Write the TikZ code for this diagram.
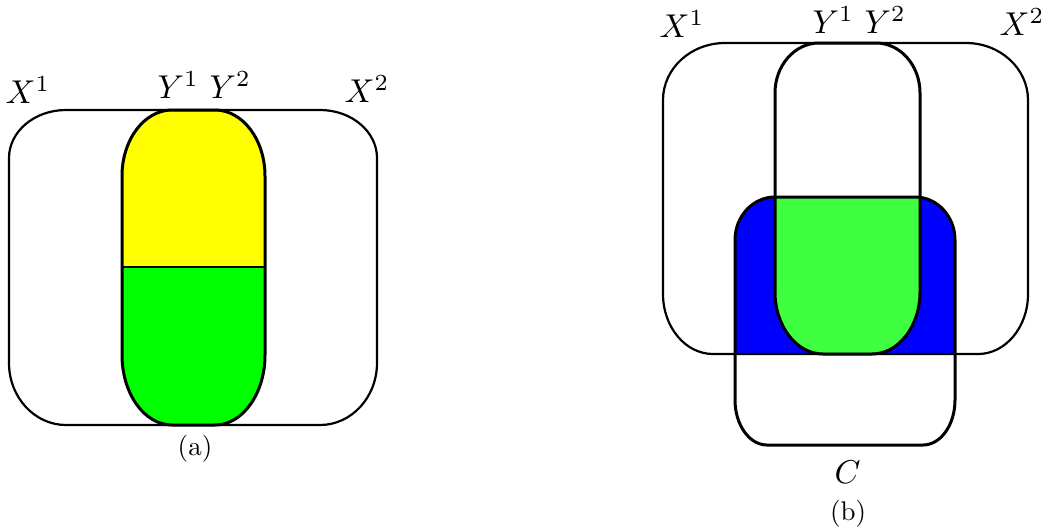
\documentclass[tikz,border=0pt]{standalone}
% rounded rectangle with elliptic corners:
% #1,#2 top-left, #3,#4 bottom-right, #5/#6 top corner radii (x/y), #7/#8 bottom corner radii (x/y)
\newcommand\rrpath[8]{({#1+#5},#2) -- ({#3-#5},#2)
  .. controls ({#3-0.448*#5},#2) and (#3,{#2+0.448*#6}) .. (#3,{#2+#6})
  -- (#3,{#4-#8})
  .. controls (#3,{#4-0.448*#8}) and ({#3-0.448*#7},#4) .. ({#3-#7},#4)
  -- ({#1+#7},#4)
  .. controls ({#1+0.448*#7},#4) and (#1,{#4-0.448*#8}) .. (#1,{#4-#8})
  -- (#1,{#2+#6})
  .. controls (#1,{#2+0.448*#6}) and ({#1+0.448*#5},#2) .. ({#1+#5},#2) -- cycle}
\begin{document}
\begin{tikzpicture}[x=1pt,y=-1pt,
  outer/.style={draw=black,line width=2.2pt},
  pill/.style={draw=black,line width=3pt},
  lbl/.style={scale=3.3,inner sep=0pt,anchor=base west},
  captxt/.style={scale=2.7,inner sep=0pt,anchor=base}]
\useasboundingbox (0,0) rectangle (1054,530);
\definecolor{yel}{RGB}{255,255,0}
\definecolor{grA}{RGB}{0,255,0}
\definecolor{grB}{RGB}{64,255,64}
\definecolor{blu}{RGB}{0,0,255}
% ---------- panel (a)
\begin{scope}
  \clip (0,0) rectangle (400,267);
  \fill[yel] \rrpath{122}{110}{265}{425}{50}{66}{50}{70};
\end{scope}
\begin{scope}
  \clip (0,267) rectangle (400,500);
  \fill[grA] \rrpath{122}{110}{265}{425}{50}{66}{50}{70};
\end{scope}
\draw[outer] \rrpath{9}{110}{377}{425}{57}{48}{57}{62};
\draw[pill] \rrpath{122}{110}{265}{425}{50}{66}{50}{70};
\coordinate (dl) at (122,267);
\coordinate (dr) at (265,267);
\draw[line width=2.5pt] (dl) -- (dr);
\node[lbl] (ax1) at (5,103) {$X^1$};
\node[lbl] (ay1) at (157,98) {$Y^1$};
\node[lbl] (ay2) at (209,98) {$Y^2$};
\node[lbl] (ax2) at (344,102) {$X^2$};
\node[captxt] (acap) at (195,455) {(a)};
% ---------- panel (b)
\begin{scope}
  \clip \rrpath{663}{43}{1028}{354}{62}{57}{50}{60};
  \fill[blu] \rrpath{735}{197}{955}{445}{40}{43}{32}{45};
\end{scope}
\begin{scope}
  \clip \rrpath{735}{197}{955}{445}{40}{43}{32}{45};
  \fill[grB] \rrpath{775}{43}{920}{354}{44}{50}{48}{62};
\end{scope}
\draw[outer] \rrpath{663}{43}{1028}{354}{62}{57}{50}{60};
\draw[pill] \rrpath{775}{43}{920}{354}{44}{50}{48}{62};
\draw[pill] \rrpath{735}{197}{955}{445}{40}{43}{32}{45};
\node[lbl] (bx1) at (659,37) {$X^1$};
\node[lbl] (by1) at (812,33) {$Y^1$};
\node[lbl] (by2) at (864,33) {$Y^2$};
\node[lbl] (bx2) at (999,35) {$X^2$};
\node[lbl] (bc) at (834,483) {$C$};
\node[captxt] (bcap) at (848,520) {(b)};
\end{tikzpicture}
\end{document}
